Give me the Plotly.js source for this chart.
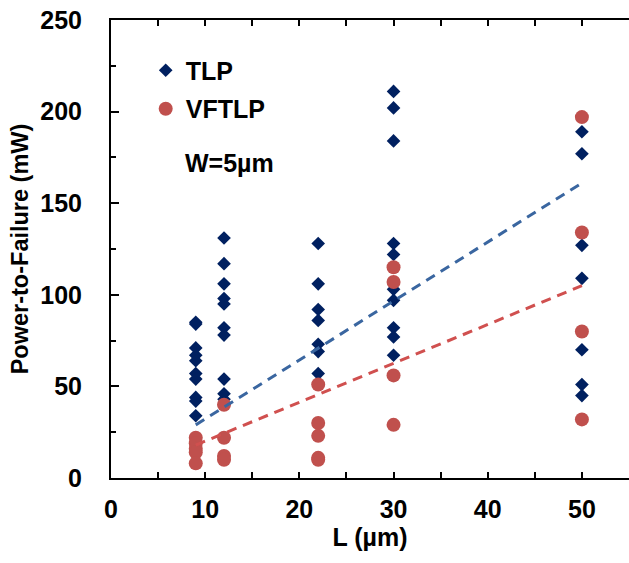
<!DOCTYPE html>
<html>
<head>
<meta charset="utf-8">
<script src="https://cdn.plot.ly/plotly-3.0.1.min.js"></script>
<style>html,body{margin:0;padding:0;background:#fff}#chart{width:629px;height:563px}</style>
</head>
<body>
<div id="chart"></div>
<script>
// TLP data
var tlpL = [9,9,9,9,9,9,9,9,9,9, 12,12,12,12,12,12,12,12,12,12, 22,22,22,22,22,22,22, 30,30,30,30,30,30,30,30,30,30, 50,50,50,50,50,50,50];
var tlpP = [85,84,71,67,64,57,54,44,42,34, 131,117,106,98,95,82,78,54,46,43, 128,106,92,86,73,69,57, 211,202,184,128,122,103,97,82,77,67, 189,177,127,109,70,51,45];
// VFTLP data
var vfL = [9,9,9,9,9, 12,12,12,12, 22,22,22,22,22, 30,30,30,30, 50,50,50,50];
var vfP = [22,19,16,14,8, 40,22,12,10, 51,30,23,11,10, 115,107,56,29, 197,134,80,32];
// trend lines
var trendL = [9, 50];
var tlpTrend = [29, 161];
var vfTrend = [18, 105];
var seriesNames = ["TLP", "VFTLP"];
var noteText = "W=5µm";
var xTitle = "L (µm)";
var yTitle = "Power-to-Failure (mW)";

var FONT = "Arial, 'Liberation Sans', sans-serif";
var traces = [
  {x: tlpL, y: tlpP, type: "scatter", mode: "markers", name: seriesNames[0], legendgroup: "a",
   marker: {symbol: "diamond", size: 10.5, color: "#002060"}},
  {x: vfL, y: vfP, type: "scatter", mode: "markers", name: seriesNames[1], legendgroup: "b",
   marker: {symbol: "circle", size: 14, color: "#c0504d"}},
  {x: trendL, y: tlpTrend, type: "scatter", mode: "lines", showlegend: false,
   line: {color: "#3a66a0", width: 3, dash: "10px,7px"}},
  {x: trendL, y: vfTrend, type: "scatter", mode: "lines", showlegend: false,
   line: {color: "#d0504f", width: 3, dash: "10px,7px"}}
];
var layout = {
  width: 629, height: 563,
  margin: {l: 111, r: 0, t: 20, b: 85},
  paper_bgcolor: "#fff", plot_bgcolor: "#fff",
  font: {family: FONT, color: "#000"},
  showlegend: true,
  legend: {x: 0.067, y: 0.94, xanchor: "left", yanchor: "top", bgcolor: "rgba(0,0,0,0)",
           font: {size: 25, weight: "bold", family: FONT}, traceorder: "grouped", tracegroupgap: 3},
  xaxis: {range: [0, 55], tick0: 0, dtick: 10, ticks: "inside", ticklen: 6, tickwidth: 2, tickcolor: "#000",
          showline: true, linewidth: 2, linecolor: "#000", mirror: "allticks",
          showgrid: false, zeroline: false, ticklabelstandoff: 8,
          minor: {dtick: 5, tick0: 0, ticks: "inside", ticklen: 6, tickwidth: 2, tickcolor: "#000", showgrid: false},
          tickfont: {size: 25, weight: "bold", family: FONT},
          title: {text: xTitle, font: {size: 25, weight: "bold", family: FONT}, standoff: 0}},
  yaxis: {range: [0, 250], tick0: 0, dtick: 50, ticks: "inside", ticklen: 8, tickwidth: 2, tickcolor: "#000",
          showline: true, linewidth: 2, linecolor: "#000", mirror: false,
          showgrid: false, zeroline: false, ticklabelstandoff: 22,
          minor: {dtick: 25, tick0: 0, ticks: "inside", ticklen: 5, tickwidth: 2, tickcolor: "#000", showgrid: false},
          tickfont: {size: 25, weight: "bold", family: FONT},
          title: {text: yTitle, font: {size: 23.5, weight: "bold", family: FONT}, standoff: 5}},
  annotations: [
    {x: 12.6, y: 172, xref: "x", yref: "y", text: noteText, showarrow: false,
     font: {size: 25, weight: "bold", family: FONT}, xanchor: "center", yanchor: "middle"}
  ]
};
Plotly.newPlot("chart", traces, layout, {displayModeBar: false, staticPlot: true});
</script>
</body>
</html>
